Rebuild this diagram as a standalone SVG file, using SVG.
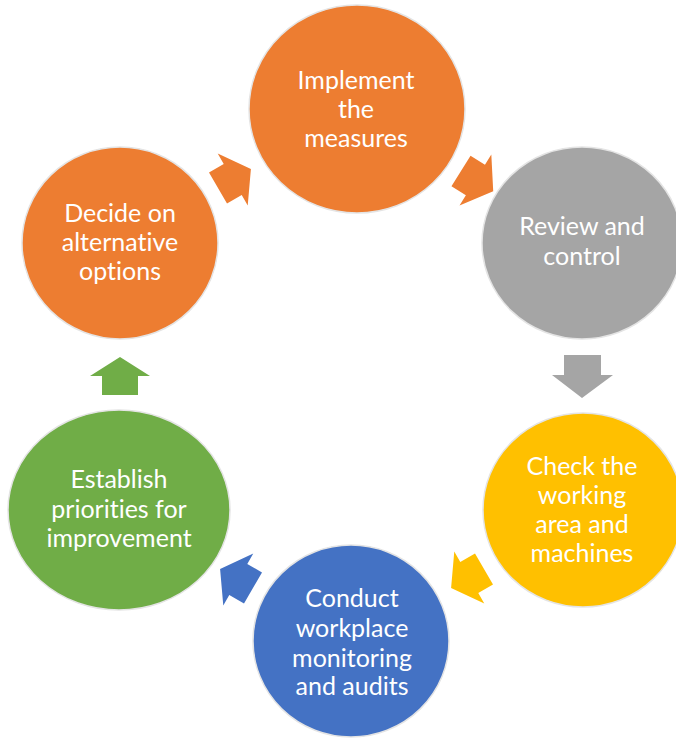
<svg xmlns="http://www.w3.org/2000/svg" width="676" height="738" viewBox="0 0 676 738">
<defs>
<style>
.node{stroke:#e4e4e4;stroke-width:1.5}
.t{font-family:Lato,"Open Sans",sans-serif;font-size:25px;fill:#ffffff;text-anchor:middle;font-variant-ligatures:none;font-feature-settings:"liga" 0,"dlig" 0}
</style>
<path id="arr" d="M0,-18 L17,-18 L17,-30 L38,0 L17,30 L17,18 L0,18 Z"/>
</defs>
<rect width="676" height="738" fill="#ffffff"/>
<g id="connectors">
<use href="#arr" fill="#ED7D31" transform="translate(218,188) rotate(-30)"/>
<use href="#arr" fill="#ED7D31" transform="translate(461,171) rotate(32)"/>
<path fill="#A5A5A5" d="M564,355 L601,355 L601,375 L613,375 L582,398 L552,375 L564,375 Z"/>
<use href="#arr" fill="#FFC000" transform="translate(484,569) rotate(150)"/>
<use href="#arr" fill="#4472C4" transform="translate(253,588) rotate(210)"/>
<path fill="#70AD47" d="M102,395 L138,395 L138,376 L150,376 L120,357 L90,376 L102,376 Z"/>
</g>
<g id="implement">
<ellipse class="node" cx="357" cy="109" rx="108" ry="104" fill="#ED7D31"/>
<text class="t" x="356" y="89">Implement</text>
<text class="t" x="356" y="118">the</text>
<text class="t" x="356" y="147">measures</text>
</g>
<g id="review">
<ellipse class="node" cx="582" cy="243" rx="100" ry="96" fill="#A5A5A5"/>
<text class="t" x="582" y="235">Review and</text>
<text class="t" x="582" y="265">control</text>
</g>
<g id="check">
<ellipse class="node" cx="583" cy="510" rx="100" ry="97" fill="#FFC000"/>
<text class="t" x="582" y="475">Check the</text>
<text class="t" x="582" y="504">working</text>
<text class="t" x="582" y="533">area and</text>
<text class="t" x="582" y="562">machines</text>
</g>
<g id="conduct">
<ellipse class="node" cx="351" cy="641" rx="98" ry="96" fill="#4472C4"/>
<text class="t" x="352" y="607">Conduct</text>
<text class="t" x="352" y="637">workplace</text>
<text class="t" x="352" y="667">monitoring</text>
<text class="t" x="352" y="695">and audits</text>
</g>
<g id="establish">
<ellipse class="node" cx="119" cy="510" rx="111" ry="100" fill="#70AD47"/>
<text class="t" x="119" y="488">Establish</text>
<text class="t" x="119" y="518">priorities for</text>
<text class="t" x="119" y="547">improvement</text>
</g>
<g id="decide">
<ellipse class="node" cx="120" cy="243" rx="98" ry="96" fill="#ED7D31"/>
<text class="t" x="120" y="222">Decide on</text>
<text class="t" x="120" y="251">alternative</text>
<text class="t" x="120" y="280">options</text>
</g>
</svg>
